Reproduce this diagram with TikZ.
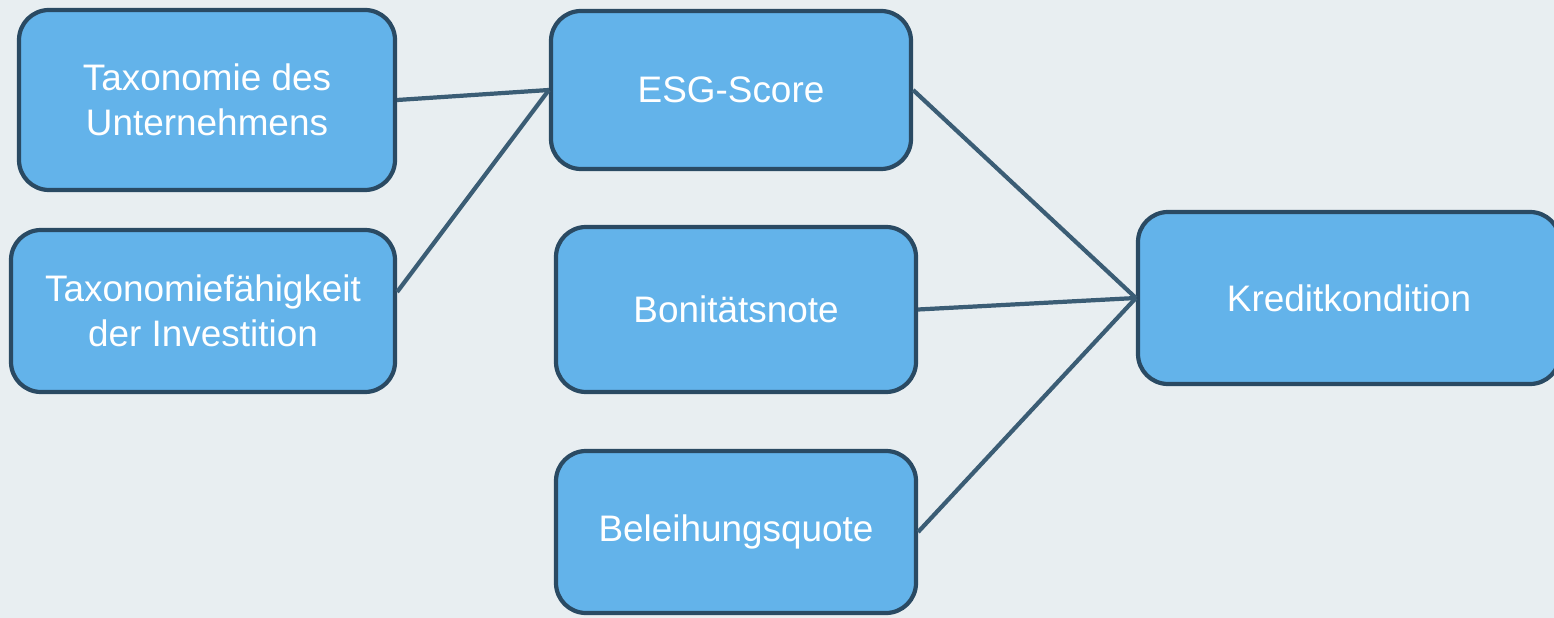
\documentclass[tikz,border=0pt]{standalone}
\usepackage{fontspec}
\setmainfont{Liberation Sans}
\usetikzlibrary{backgrounds}

\definecolor{boxfill}{HTML}{63B3EA}
\definecolor{boxedge}{HTML}{2A4A63}
\definecolor{linkcol}{HTML}{3B5D75}
\definecolor{bgcol}{HTML}{E8EEF1}

\begin{document}
\begin{tikzpicture}[main/.style = {draw=boxedge, fill=boxfill, line width=2.4pt, rounded corners=0.6cm, align=center, text=white, font=\fontsize{21}{25.5}\selectfont, inner sep=0pt},
    link/.style = {draw=linkcol, line width=2.4pt}]
        \useasboundingbox[fill=bgcol] (0,0) rectangle (31.08,-12.36);

        \node[main, minimum width=7.52cm, minimum height=3.6cm] (0) at (4.14,-2.00) {Taxonomie des\\Unternehmens};
        \node[main, minimum width=7.68cm, minimum height=3.24cm] (1) at (4.06,-6.22) {Taxonomiefähigkeit\\der Investition};
        \node[main, minimum width=7.2cm, minimum height=3.16cm] (2) at (14.62,-1.80) {ESG-Score};
        \node[main, minimum width=7.2cm, minimum height=3.3cm] (3) at (14.72,-6.19) {Bonitätsnote};
        \node[main, minimum width=7.2cm, minimum height=3.24cm] (4) at (14.72,-10.64) {Beleihungsquote};
        \node[main, minimum width=8.44cm, minimum height=3.44cm] (5) at (26.98,-5.96) {Kreditkondition};

        \draw[link] (0.east) -- (2.west);
        \draw[link] ([yshift=0.38cm]1.east) -- (2.west);

        \draw[link] (2.east) -- (5.west);
        \draw[link] (3.east) -- (5.west);
        \draw[link] (4.east) -- (5.west);
\end{tikzpicture}
\end{document}
